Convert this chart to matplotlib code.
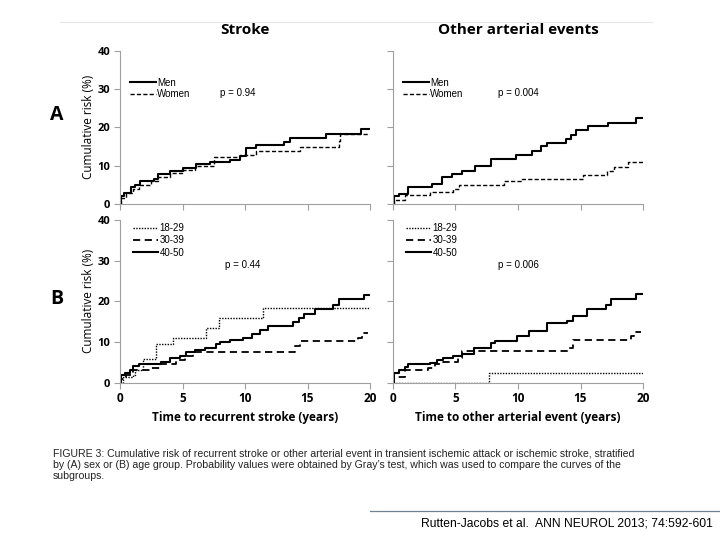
import matplotlib
matplotlib.use("Agg")
import matplotlib.pyplot as plt
from matplotlib.lines import Line2D

# datos (tiempo en años, riesgo acumulado en %)
stroke_men_t = [0, 0.1, 0.3, 0.9, 1.2, 1.6, 2.7, 3.0, 4.0, 5.0, 6.1, 7.2, 8.8, 9.6, 10.1, 10.9, 13.1, 13.6, 16.5, 19.3, 20]
stroke_men_r = [0, 2.0, 3.0, 4.5, 5.0, 6.0, 6.5, 7.8, 8.5, 9.5, 10.5, 11.0, 11.5, 12.5, 14.5, 15.3, 16.2, 17.3, 18.3, 19.5, 19.5]
stroke_women_t = [0, 0.1, 0.5, 1.0, 1.5, 2.5, 3.0, 4.0, 5.0, 6.0, 7.5, 9.6, 10.9, 14.4, 17.5, 17.6, 20]
stroke_women_r = [0, 1.5, 3.0, 4.0, 5.0, 6.0, 7.0, 8.0, 9.0, 10.0, 12.3, 12.8, 13.9, 14.9, 16.5, 18.2, 18.2]

other_men_t = [0, 0.1, 0.5, 1.2, 3.1, 3.9, 4.7, 5.5, 6.6, 7.8, 9.8, 11.1, 11.8, 12.3, 13.8, 14.2, 14.6, 15.6, 17.2, 19.4, 20]
other_men_r = [0, 2.0, 2.6, 4.5, 5.3, 7.0, 7.9, 8.7, 9.8, 11.7, 12.8, 13.9, 15.2, 15.8, 16.9, 18.0, 19.3, 20.3, 21.2, 22.5, 22.5]
other_women_t = [0, 0.1, 1.0, 3.0, 4.8, 5.3, 8.9, 10.2, 15.2, 17.1, 17.7, 18.8, 20]
other_women_r = [0, 1.0, 2.3, 3.2, 3.9, 4.9, 6.0, 6.6, 7.5, 8.7, 9.6, 10.9, 10.9]

stroke_18_t = [0, 0.2, 1.0, 1.2, 1.8, 2.9, 4.2, 6.9, 7.9, 11.4, 20]
stroke_18_r = [0, 1.5, 2.0, 3.0, 5.8, 9.4, 11.0, 13.4, 15.8, 18.4, 18.4]
stroke_30_t = [0, 0.1, 0.5, 1.0, 2.5, 3.2, 4.5, 5.2, 5.8, 14.0, 14.4, 19.0, 19.4, 19.8]
stroke_30_r = [0, 1.0, 2.0, 3.0, 3.5, 4.5, 5.5, 6.5, 7.6, 9.0, 10.2, 11.0, 12.3, 12.3]
stroke_40_t = [0, 0.05, 0.4, 0.8, 1.0, 1.5, 3.3, 4.0, 4.8, 5.3, 6.0, 6.8, 7.7, 8.0, 8.8, 9.8, 10.6, 11.2, 11.8,
               13.8, 14.3, 14.7, 15.6, 17.0, 17.5, 19.5, 20]
stroke_40_r = [0, 2.0, 2.5, 3.0, 4.0, 4.5, 5.2, 6.0, 6.5, 7.5, 8.0, 8.5, 9.5, 10.0, 10.5, 11.0, 12.0, 13.0, 14.0,
               15.0, 16.0, 17.0, 18.0, 19.0, 20.5, 21.5, 21.5]

other_18_t = [0, 7.7, 20]
other_18_r = [0, 2.3, 2.3]
other_30_t = [0, 0.1, 1.0, 2.8, 3.4, 4.0, 5.2, 5.5, 14.0, 14.4, 19.0, 19.3, 19.8]
other_30_r = [0, 1.5, 3.1, 3.5, 4.5, 5.0, 6.0, 7.8, 8.5, 10.4, 11.5, 12.4, 12.4]
other_40_t = [0, 0.05, 0.5, 1.0, 1.2, 3.0, 3.5, 4.0, 4.8, 5.5, 6.5, 7.8, 8.2, 9.9, 10.9, 12.3, 13.9, 14.4,
              15.5, 17.0, 17.4, 19.4, 20]
other_40_r = [0, 2.5, 3.0, 3.9, 4.5, 4.9, 5.5, 6.0, 6.5, 7.1, 8.6, 9.8, 10.2, 11.4, 12.7, 14.7, 15.1, 16.3,
              18.0, 19.2, 20.6, 21.8, 21.8]

sex_labels = ["Men", "Women"]
age_labels = ["18-29", "30-39", "40-50"]
p_values = ["p = 0.94", "p = 0.004", "p = 0.44", "p = 0.006"]
yticks = [0, 10, 20, 30, 40]
xticks = [0, 5, 10, 15, 20]

bold_font = ["Open Sans", "DejaVu Sans"]
thin_font = ["Liberation Sans", "DejaVu Sans"]

fig = plt.figure(figsize=(7.2, 5.4), dpi=100)
W, H = 720.0, 540.0


def make_ax(x0, x1, ytop, ybot):
    return fig.add_axes([x0 / W, 1 - ybot / H, (x1 - x0) / W, (ybot - ytop) / H])


ax_a1 = make_ax(120, 370, 50.7, 204)
ax_a2 = make_ax(393, 643, 50.7, 204)
ax_b1 = make_ax(120, 370, 220, 382.7)
ax_b2 = make_ax(393, 643, 220, 382.7)

sex_styles = [dict(ls="-", lw=1.5), dict(ls=(0, (3, 1.6)), lw=1.0)]
age_styles = [dict(ls=(0, (1, 1)), lw=1.0), dict(ls=(0, (4, 2.5)), lw=1.3), dict(ls="-", lw=1.5)]

ax_a1.step(stroke_men_t, stroke_men_r, where="post", color="black", **sex_styles[0])
ax_a1.step(stroke_women_t, stroke_women_r, where="post", color="black", **sex_styles[1])
ax_a2.step(other_men_t, other_men_r, where="post", color="black", **sex_styles[0])
ax_a2.step(other_women_t, other_women_r, where="post", color="black", **sex_styles[1])

ax_b1.step(stroke_18_t, stroke_18_r, where="post", color="black", **age_styles[0])
ax_b1.step(stroke_30_t, stroke_30_r, where="post", color="black", **age_styles[1])
ax_b1.step(stroke_40_t, stroke_40_r, where="post", color="black", **age_styles[2])
ax_b2.step(other_18_t, other_18_r, where="post", color="black", **age_styles[0])
ax_b2.step(other_30_t, other_30_r, where="post", color="black", **age_styles[1])
ax_b2.step(other_40_t, other_40_r, where="post", color="black", **age_styles[2])

for i, ax in enumerate([ax_a1, ax_a2, ax_b1, ax_b2]):
    ax.set_xlim(0, 20)
    ax.set_ylim(0, 40)
    ax.set_xticks(xticks)
    ax.set_yticks(yticks)
    for s in ["top", "right"]:
        ax.spines[s].set_visible(False)
    for s in ["left", "bottom"]:
        ax.spines[s].set_color("#a0a0a0")
        ax.spines[s].set_linewidth(0.8)
    ax.tick_params(direction="out", length=4, width=0.8, color="#a0a0a0", pad=3)
    ax.patch.set_alpha(0)
    if i in (1, 3):
        ax.set_yticklabels([])
    else:
        ax.set_yticklabels([str(v) for v in yticks], fontfamily=bold_font, fontweight="bold", fontsize=8)
        ax.set_ylabel("Cumulative risk (%)", fontfamily=bold_font, fontsize=8.5, labelpad=2)
    if i in (0, 1):
        ax.set_xticklabels([])
    else:
        ax.set_xticklabels([str(v) for v in xticks], fontfamily=bold_font, fontweight="bold", fontsize=8.5)
    if i < 2:
        handles = [Line2D([], [], color="black", **sex_styles[k]) for k in range(2)]
        ax.legend(handles, sex_labels, loc="upper left", bbox_to_anchor=(0.02, 0.855),
                  frameon=False, borderpad=0, handlelength=2.7, handletextpad=0.1, labelspacing=0.15,
                  prop={"family": thin_font, "size": 7})
    else:
        handles = [Line2D([], [], color="black", **age_styles[k]) for k in range(3)]
        ax.legend(handles, age_labels, loc="upper left", bbox_to_anchor=(0.032, 1.012),
                  frameon=False, borderpad=0, handlelength=2.6, handletextpad=0.15, labelspacing=0.25,
                  prop={"family": thin_font, "size": 7})
    ax.text(8.0 if i == 0 else 8.4, 29.0, p_values[i],
            fontfamily=thin_font, fontsize=7, va="center")

ax_b1.set_xlabel("Time to recurrent stroke (years)", fontfamily=bold_font, fontweight="bold", fontsize=8.5, labelpad=4)
ax_b2.set_xlabel("Time to other arterial event (years)", fontfamily=bold_font, fontweight="bold", fontsize=8.5, labelpad=4)

# titulos y letras de panel
fig.text(245 / W, 1 - 30 / H, "Stroke", fontfamily=bold_font, fontweight="bold", fontsize=11, ha="center", va="center")
fig.text(518 / W, 1 - 30 / H, "Other arterial events", fontfamily=bold_font, fontweight="bold", fontsize=11,
         ha="center", va="center")
fig.text(57 / W, 1 - 115 / H, "A", fontfamily=bold_font, fontweight="bold", fontsize=14, ha="center", va="center")
fig.text(57 / W, 1 - 299 / H, "B", fontfamily=bold_font, fontweight="bold", fontsize=14, ha="center", va="center")

# lineas decorativas
fig.add_artist(Line2D([60 / W, 652 / W], [1 - 22 / H, 1 - 22 / H], color="#e6e6e6", lw=0.8))
fig.add_artist(Line2D([370 / W, 1.0], [1 - 511 / H, 1 - 511 / H], color="#6f8193", lw=0.9))

caption = [
    "FIGURE 3: Cumulative risk of recurrent stroke or other arterial event in transient ischemic attack or ischemic stroke, stratified",
    "by (A) sex or (B) age group. Probability values were obtained by Gray\u2019s test, which was used to compare the curves of the",
    "subgroups.",
]
for k, line in enumerate(caption):
    fig.text(53 / W, 1 - (454 + k * 11.2) / H, line, fontfamily=thin_font, fontsize=7.6, va="center", color="#222222")

fig.text(713 / W, 1 - 523 / H, "Rutten-Jacobs et al.  ANN NEUROL 2013; 74:592-601",
         fontfamily=thin_font, fontsize=8.7, va="center", ha="right")

fig.savefig("out.png", dpi=100)
